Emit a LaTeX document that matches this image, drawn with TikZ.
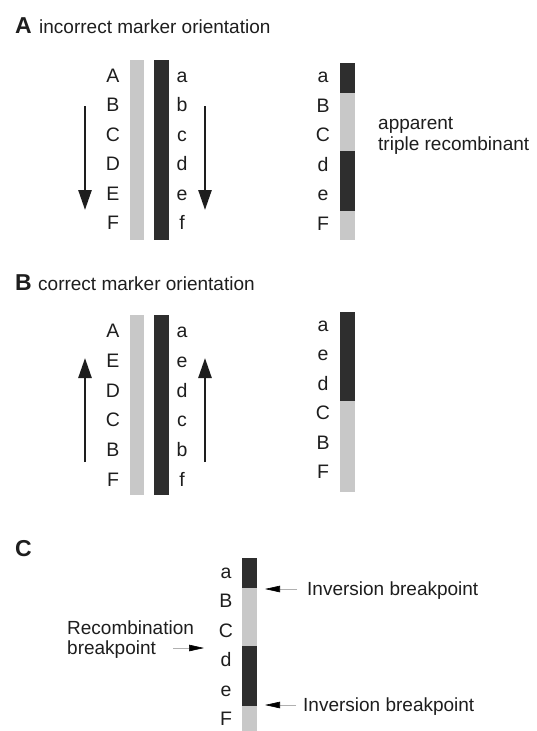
\documentclass[tikz,border=0pt]{standalone}
\usepackage{fontspec}
\setmainfont{Liberation Sans}
\usetikzlibrary{arrows.meta}
\definecolor{dk}{HTML}{2E2E2E}
\definecolor{lt}{HTML}{C8C8C8}
\definecolor{txt}{HTML}{1E1E1E}
\definecolor{thinln}{HTML}{B0B0B0}
\begin{document}
\begin{tikzpicture}[x=1pt,y=-1pt,
  lbl/.style={anchor=base,inner sep=0pt,text=txt,font=\fontsize{19.5}{21}\selectfont},
  txtw/.style={anchor=base west,inner sep=0pt,text=txt,font=\fontsize{19}{21}\selectfont},
  panel/.style={anchor=base west,inner sep=0pt,text=txt,font=\bfseries\fontsize{23}{23}\selectfont},
  bigarrow/.style={draw=txt,line width=2.6pt,-{Triangle[length=20pt,width=13pt]}},
  smallarrow/.style={draw=thinln,line width=0.6pt,-{Triangle[length=15pt,width=6.5pt,color=black]}},
  darkseg/.style={fill=dk},
  lightseg/.style={fill=lt}]
\useasboundingbox[fill=white] (0,0) rectangle (537,731);

% ---------------- Panel A ----------------
\node[panel] (labA) at (15,33.5) {A};
\node[txtw] (titA) at (39,33) {incorrect marker orientation};
\fill[lightseg] (130,60) rectangle (144,240);
\fill[darkseg] (154,60) rectangle (169,240);
\foreach \t [count=\i from 0] in {A,B,C,D,E,F}
  \node[lbl] (AL\i) at (113,82.5+29.4*\i) {\t};
\foreach \t [count=\i from 0] in {a,b,c,d,e,f}
  \node[lbl] (Al\i) at (182,82.5+29.4*\i) {\t};
\coordinate (Aas) at (85,106); \coordinate (Aae) at (85,210);
\coordinate (Abs) at (205,106); \coordinate (Abe) at (205,210);
\draw[bigarrow] (Aas) -- (Aae);
\draw[bigarrow] (Abs) -- (Abe);
% recombinant A
\fill[darkseg] (340,63) rectangle (355,93);
\fill[lightseg] (340,93) rectangle (355,151);
\fill[darkseg] (340,151) rectangle (355,211);
\fill[lightseg] (340,211) rectangle (355,240);
\foreach \t [count=\i from 0] in {a,B,C,d,e,F}
  \node[lbl] (AR\i) at (323,82.5+29.6*\i) {\t};
\node[txtw] (app1) at (378,129) {apparent};
\node[txtw] (app2) at (378,150) {triple recombinant};

% ---------------- Panel B ----------------
\node[panel] (labB) at (15,290.5) {B};
\node[txtw] (titB) at (38,290) {correct marker orientation};
\fill[lightseg] (130,315) rectangle (144,495);
\fill[darkseg] (154,315) rectangle (169,495);
\foreach \t [count=\i from 0] in {A,E,D,C,B,F}
  \node[lbl] (BL\i) at (113,337.5+29.8*\i) {\t};
\foreach \t [count=\i from 0] in {a,e,d,c,b,f}
  \node[lbl] (Bl\i) at (182,337.5+29.8*\i) {\t};
\coordinate (Bas) at (85,462); \coordinate (Bae) at (85,358);
\coordinate (Bbs) at (205,462); \coordinate (Bbe) at (205,358);
\draw[bigarrow] (Bas) -- (Bae);
\draw[bigarrow] (Bbs) -- (Bbe);
\fill[darkseg] (340,312) rectangle (355,401);
\fill[lightseg] (340,401) rectangle (355,492);
\foreach \t [count=\i from 0] in {a,e,d,C,B,F}
  \node[lbl] (BR\i) at (323,331.5+29.4*\i) {\t};

% ---------------- Panel C ----------------
\node[panel] (labC) at (15,556.5) {C};
\fill[darkseg] (242,558) rectangle (257,588);
\fill[lightseg] (242,588) rectangle (257,646);
\fill[darkseg] (242,646) rectangle (257,706);
\fill[lightseg] (242,706) rectangle (257,731);
\foreach \t [count=\i from 0] in {a,B,C,d,e,F}
  \node[lbl] (CL\i) at (226,578.5+29.4*\i) {\t};
\node[txtw] (rec1) at (67,634) {Recombination};
\node[txtw] (rec2) at (67,654) {breakpoint};
\node[txtw] (inv1) at (307,595.5) {Inversion breakpoint};
\node[txtw] (inv2) at (303,711.5) {Inversion breakpoint};
\coordinate (r1) at (173,648); \coordinate (r2) at (204,648);
\coordinate (i1s) at (297,589); \coordinate (i1e) at (265,589);
\coordinate (i2s) at (296,705); \coordinate (i2e) at (265,705);
\draw[smallarrow] (r1) -- (r2);
\draw[smallarrow] (i1s) -- (i1e);
\draw[smallarrow] (i2s) -- (i2e);
\end{tikzpicture}
\end{document}
